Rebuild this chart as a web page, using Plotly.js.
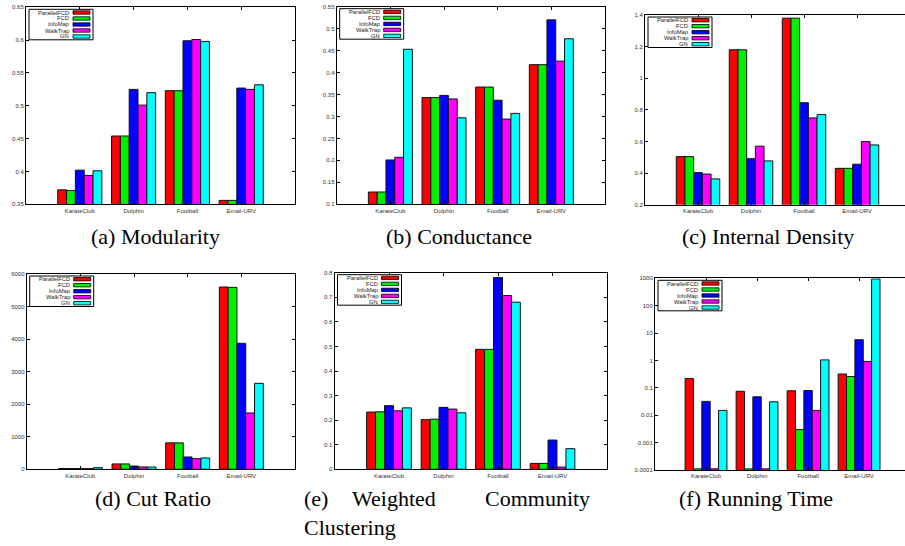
<!DOCTYPE html>
<html>
<head>
<meta charset="utf-8">
<script src="https://cdn.plot.ly/plotly-3.0.1.min.js"></script>
<style>html,body{margin:0;padding:0;background:#fff;}#chart{width:905px;height:546px;}</style>
</head>
<body>
<div id="chart"></div>
<script>
// ---------------- data ----------------
const categories = ['KarateClub', 'Dolphin', 'Football', 'Email-URV'];
const algorithms = ['ParallelFCD', 'FCD', 'InfoMap', 'WalkTrap', 'GN'];
const colors = ['#ff0000', '#00ee00', '#0000ff', '#ff00ff', '#00ffff'];

// rows follow `algorithms`, columns follow `categories`
const modularity = [
  [0.372, 0.454, 0.523, 0.356],
  [0.371, 0.454, 0.523, 0.356],
  [0.402, 0.525, 0.599, 0.527],
  [0.394, 0.501, 0.601, 0.525],
  [0.401, 0.520, 0.598, 0.532]
];
const conductance = [
  [0.128, 0.343, 0.367, 0.418],
  [0.128, 0.343, 0.367, 0.418],
  [0.201, 0.348, 0.337, 0.520],
  [0.207, 0.340, 0.294, 0.426],
  [0.453, 0.297, 0.307, 0.477]
];
const internalDensity = [
  [0.504, 1.18, 1.38, 0.430],
  [0.504, 1.18, 1.38, 0.430],
  [0.403, 0.491, 0.845, 0.456],
  [0.394, 0.570, 0.749, 0.599],
  [0.363, 0.477, 0.770, 0.578]
];
const cutRatio = [
  [25, 165, 812, 5600],
  [25, 165, 812, 5590],
  [25, 100, 379, 3870],
  [20, 73, 327, 1731],
  [50, 70, 349, 2641]
];
const weightedClustering = [
  [0.233, 0.202, 0.488, 0.024],
  [0.234, 0.204, 0.488, 0.024],
  [0.259, 0.252, 0.780, 0.119],
  [0.238, 0.245, 0.707, 0.009],
  [0.250, 0.230, 0.680, 0.084]
];
const runningTime = [
  [0.22, 0.075, 0.078, 0.32],
  [0.00011, 0.00011, 0.003, 0.26],
  [0.032, 0.047, 0.080, 5.7],
  [0.00011, 0.00011, 0.015, 0.92],
  [0.015, 0.031, 1.05, 950]
];

const modTicks = ['0.35', '0.4', '0.45', '0.5', '0.55', '0.6', '0.65'];
const condTicks = ['0.1', '0.15', '0.2', '0.25', '0.3', '0.35', '0.4', '0.45', '0.5', '0.55'];
const densTicks = ['0.2', '0.4', '0.6', '0.8', '1', '1.2', '1.4'];
const cutTicks = ['0', '1000', '2000', '3000', '4000', '5000', '6000'];
const clusTicks = ['0', '0.1', '0.2', '0.3', '0.4', '0.5', '0.6', '0.7', '0.8'];
const timeTicks = ['0.0001', '0.001', '0.01', '0.1', '1', '10', '100', '1000'];

// ---------------- layout helpers ----------------
const W = 905, H = 546;
const fx = p => p / W;
const fy = p => 1 - p / H;

const panels = [
  {data: modularity, ticks: modTicks, box: [26, 295, 7.3, 204.3], xr: [-1, 4], yr: [0.35, 0.65], log: false, right: true},
  {data: conductance, ticks: condTicks, box: [336.7, 605, 6.7, 204.3], xr: [-1, 4], yr: [0.1, 0.55], log: false, right: true},
  {data: internalDensity, ticks: densTicks, box: [645, 905, 15, 204.7], xr: [-1, 3.905], yr: [0.2, 1.4], log: false, right: false},
  {data: cutRatio, ticks: cutTicks, box: [26.7, 295, 274, 469.3], xr: [-1, 4], yr: [0, 6000], log: false, right: true},
  {data: weightedClustering, ticks: clusTicks, box: [334.5, 607, 272.7, 469.3], xr: [-1, 4], yr: [0, 0.8], log: false, right: true},
  {data: runningTime, ticks: timeTicks, box: [655, 905, 278.3, 470], xr: [-1, 3.90], yr: [-4, 3], log: true, right: false}
];

const sans = 'Liberation Sans';
const serif = 'Liberation Serif';
const tickFont = {family: sans, size: 6, color: '#333'};
const traces = [];
const layout = {
  width: W, height: H,
  margin: {l: 0, r: 0, t: 0, b: 0},
  paper_bgcolor: '#fff', plot_bgcolor: '#fff',
  showlegend: false,
  barmode: 'group', bargap: 0.18, bargroupgap: 0,
  shapes: [], annotations: []
};

panels.forEach((p, i) => {
  const n = i + 1;
  const xa = n === 1 ? 'x' : 'x' + n;
  const ya = n === 1 ? 'y' : 'y' + n;
  const [L, R, T, B] = p.box;
  algorithms.forEach((alg, k) => {
    traces.push({
      type: 'bar', name: alg, x: categories, y: p.data[k],
      xaxis: xa, yaxis: ya,
      marker: {color: colors[k], line: {color: '#111', width: 1}},
      hoverinfo: 'skip'
    });
  });
  layout['xaxis' + (n === 1 ? '' : n)] = {
    domain: [fx(L), Math.min(1, fx(R))],
    anchor: ya, type: 'category', range: p.xr,
    showline: true, linecolor: '#000', linewidth: 1, mirror: 'ticks',
    ticks: 'inside', ticklen: 3, tickcolor: '#000',
    showgrid: false, zeroline: false, tickfont: tickFont, fixedrange: true
  };
  layout['yaxis' + (n === 1 ? '' : n)] = {
    domain: [fy(B), fy(T)],
    anchor: xa, type: p.log ? 'log' : 'linear', range: p.yr,
    tickmode: 'array', tickvals: p.ticks.map(Number), ticktext: p.ticks,
    showline: true, linecolor: '#000', linewidth: 1, mirror: p.right ? 'ticks' : false,
    ticks: 'inside', ticklen: 3, tickcolor: '#000',
    showgrid: false, zeroline: false, tickfont: tickFont, fixedrange: true
  };
  // gnuplot-style legend box (text left, swatch right)
  const bl = L + 3, bt = T + 2;
  layout.shapes.push({type: 'rect', xref: 'paper', yref: 'paper',
    x0: fx(bl), x1: fx(bl + 64), y0: fy(bt), y1: fy(bt + 30.5),
    line: {color: '#000', width: 1}, fillcolor: '#fff', layer: 'above'});
  algorithms.forEach((alg, k) => {
    const ry = bt + 3.2 + 6 * k;
    layout.annotations.push({xref: 'paper', yref: 'paper', x: fx(bl + 41), y: fy(ry),
      xanchor: 'right', yanchor: 'middle', text: alg, showarrow: false,
      font: {family: sans, size: 5.8, color: '#222'}, borderpad: 0});
    layout.shapes.push({type: 'rect', xref: 'paper', yref: 'paper',
      x0: fx(bl + 44), x1: fx(bl + 61), y0: fy(ry + 1.7), y1: fy(ry - 1.7),
      line: {color: '#000', width: 0.8}, fillcolor: colors[k], layer: 'above'});
  });
});

// captions
const capFont = {family: serif, size: 22, color: '#000'};
function cap(text, x, y, anchor) {
  layout.annotations.push({xref: 'paper', yref: 'paper', x: fx(x), y: fy(y),
    xanchor: anchor, yanchor: 'middle', text: text, showarrow: false, font: capFont});
}
cap('(a) Modularity', 155, 236, 'center');
cap('(b) Conductance', 459, 236, 'center');
cap('(c) Internal Density', 768, 236, 'center');
cap('(d) Cut Ratio', 153, 498, 'center');
cap('(e)', 302, 498, 'left');
cap('Weighted', 350, 498, 'left');
cap('Community', 592, 498, 'right');
cap('Clustering', 302, 527, 'left');
cap('(f) Running Time', 756, 498, 'center');

Plotly.newPlot('chart', traces, layout, {staticPlot: true, displayModeBar: false});
</script>
</body>
</html>
